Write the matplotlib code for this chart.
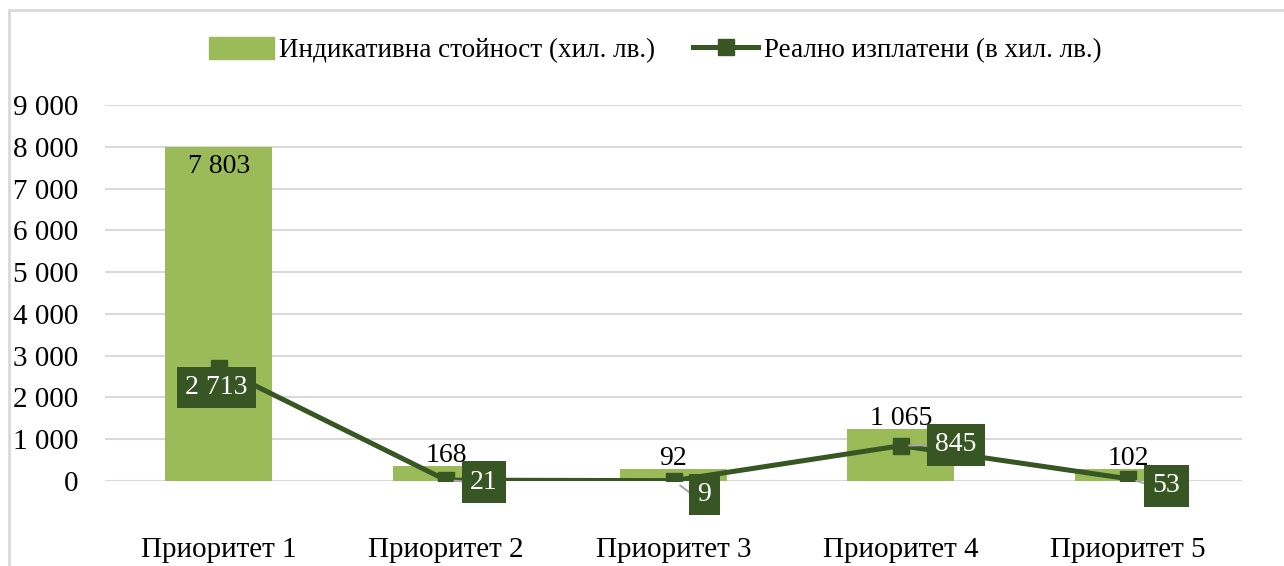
import matplotlib
matplotlib.use('Agg')
from matplotlib import pyplot as plt
from matplotlib.patches import Rectangle
from matplotlib.lines import Line2D

categories = ['Приоритет 1', 'Приоритет 2', 'Приоритет 3', 'Приоритет 4', 'Приоритет 5']
indicative = [7803, 168, 92, 1065, 102]
paid = [2713, 21, 9, 845, 53]
y_ticks = [0, 1000, 2000, 3000, 4000, 5000, 6000, 7000, 8000, 9000]

bar_name = 'Индикативна стойност (хил. лв.)'
line_name = 'Реално изплатени (в хил. лв.)'

BAR = '#9bbb59'
LINE = '#375623'
GRID = '#d9d9d9'

# the source chart draws every bar a little taller than its label
bar_pad = 190


def fmt(v):
    return f'{v:,.0f}'.replace(',', ' ')


plt.rcParams['font.family'] = ['Liberation Serif', 'DejaVu Serif']

fig = plt.figure(figsize=(12.84, 5.66), dpi=100)
fig.patches.append(Rectangle((9 / 1284, -0.1), 1.1, 1.1 - 10 / 566,
                             transform=fig.transFigure, fill=False,
                             edgecolor=GRID, lw=2))

ax = fig.add_axes([105 / 1284, 85 / 566, 1137 / 1284, 376 / 566])
x = list(range(len(categories)))

ax.bar(x, [v + bar_pad for v in indicative], width=0.47, color=BAR, zorder=2)
ax.plot(x, paid, color=LINE, lw=3.6, marker='s', markersize=12, zorder=3)

ax.set_xlim(-0.5, 4.5)
ax.set_ylim(0, 9000)
ax.set_yticks(y_ticks)
ax.set_yticklabels([fmt(v) for v in y_ticks], fontsize=21)
ax.set_xticks(x)
ax.set_xticklabels(categories, fontsize=21)
ax.tick_params(axis='y', length=0, pad=19)
ax.tick_params(axis='x', length=0, pad=40)
for s in ax.spines.values():
    s.set_visible(False)
ax.grid(axis='y', color=GRID, lw=1.5, zorder=0)
ax.set_axisbelow(True)

# bar labels
for i, v in enumerate(indicative):
    top = v + bar_pad
    if i == 0:
        ax.annotate(fmt(v), (i, top), xytext=(0, -7), textcoords='offset pixels',
                    ha='center', va='top', fontsize=20, zorder=5)
    else:
        ax.annotate(fmt(v), (i, top), xytext=(0, 4), textcoords='offset pixels',
                    ha='center', va='baseline', fontsize=20, zorder=5)

# line labels (offsets in pixels, screen up positive)
offsets = [(-2, -20), (38, -2), (31, -14), (55, 1), (38, -7)]
for i, v in enumerate(paid):
    dx, dy = offsets[i]
    if i > 0:
        ax.annotate('', (i, v), xytext=(dx - 12, dy), textcoords='offset pixels',
                    arrowprops=dict(arrowstyle='-', color='#a6a6a6', lw=1.5,
                                    shrinkA=0, shrinkB=6), zorder=3.5)
    ax.annotate(fmt(v), (i, v), xytext=(dx, dy), textcoords='offset pixels',
                ha='center', va='center', fontsize=20, color='white', zorder=6,
                bbox=dict(boxstyle='square,pad=0.3', fc=LINE, ec='none'),
                annotation_clip=False)

handles = [Rectangle((0, 0), 1, 1, color=BAR),
           Line2D([0], [0], color=LINE, lw=3.6, marker='s', markersize=12)]
fig.legend(handles, [bar_name, line_name], loc='center',
           bbox_to_anchor=(655 / 1284, 1 - 50 / 566), ncol=2, frameon=False,
           fontsize=19.5, handlelength=2.4, handleheight=0.9, handletextpad=0.2,
           columnspacing=1.4)

fig.savefig('out.png', dpi=100)
